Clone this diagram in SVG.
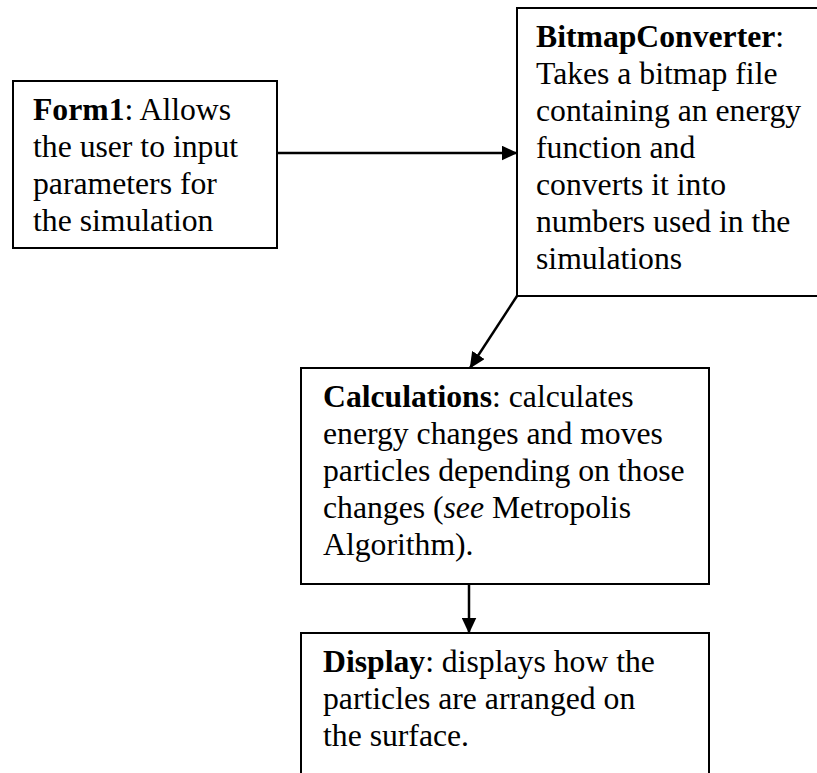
<svg xmlns="http://www.w3.org/2000/svg" width="817" height="773" viewBox="0 0 817 773">
<style>
.box{fill:#fff;stroke:#000;stroke-width:2}
.t{font-family:"Liberation Serif","Times New Roman",serif;font-size:31.7px;fill:#000}
.b{font-weight:bold}
.conn{stroke:#000;stroke-width:2.5;fill:none}
</style>
<defs>
<marker id="ah" markerWidth="16" markerHeight="15" refX="15.5" refY="7.5" orient="auto" markerUnits="userSpaceOnUse">
<path d="M0,0 L16,7.5 L0,15 Z" fill="#000"/>
</marker>
</defs>
<rect width="817" height="773" fill="#fff"/>
<g id="form1">
<rect class="box" x="13" y="81" width="264" height="167"/>
<text class="t" x="33" y="120"><tspan class="b">Form1</tspan>: Allows</text>
<text class="t" x="33" y="157">the user to input</text>
<text class="t" x="33" y="194">parameters for</text>
<text class="t" x="33" y="231">the simulation</text>
</g>
<g id="bitmapconverter">
<rect class="box" x="517" y="8" width="310" height="288"/>
<text class="t" x="536" y="47"><tspan class="b">BitmapConverter</tspan>:</text>
<text class="t" x="536" y="84">Takes a bitmap file</text>
<text class="t" x="536" y="121">containing an energy</text>
<text class="t" x="536" y="158">function and</text>
<text class="t" x="536" y="195">converts it into</text>
<text class="t" x="536" y="232">numbers used in the</text>
<text class="t" x="536" y="269">simulations</text>
</g>
<g id="calculations">
<rect class="box" x="301" y="368" width="408" height="216"/>
<text class="t" x="323" y="407"><tspan class="b">Calculations</tspan>: calculates</text>
<text class="t" x="323" y="444">energy changes and moves</text>
<text class="t" x="323" y="481">particles depending on those</text>
<text class="t" x="323" y="518">changes (<tspan font-style="italic">see</tspan> Metropolis</text>
<text class="t" x="323" y="555">Algorithm).</text>
</g>
<g id="display">
<path class="box" d="M301,790 L301,633 L709,633 L709,790"/>
<text class="t" x="323" y="672"><tspan class="b">Display</tspan>: displays how the</text>
<text class="t" x="323" y="709">particles are arranged on</text>
<text class="t" x="323" y="746">the surface.</text>
</g>
<g id="connectors">
<line class="conn" x1="277" y1="153" x2="517" y2="153" marker-end="url(#ah)"/>
<line class="conn" x1="517" y1="296" x2="470" y2="368" marker-end="url(#ah)"/>
<line class="conn" x1="469" y1="584" x2="469" y2="633" marker-end="url(#ah)"/>
</g>
</svg>
